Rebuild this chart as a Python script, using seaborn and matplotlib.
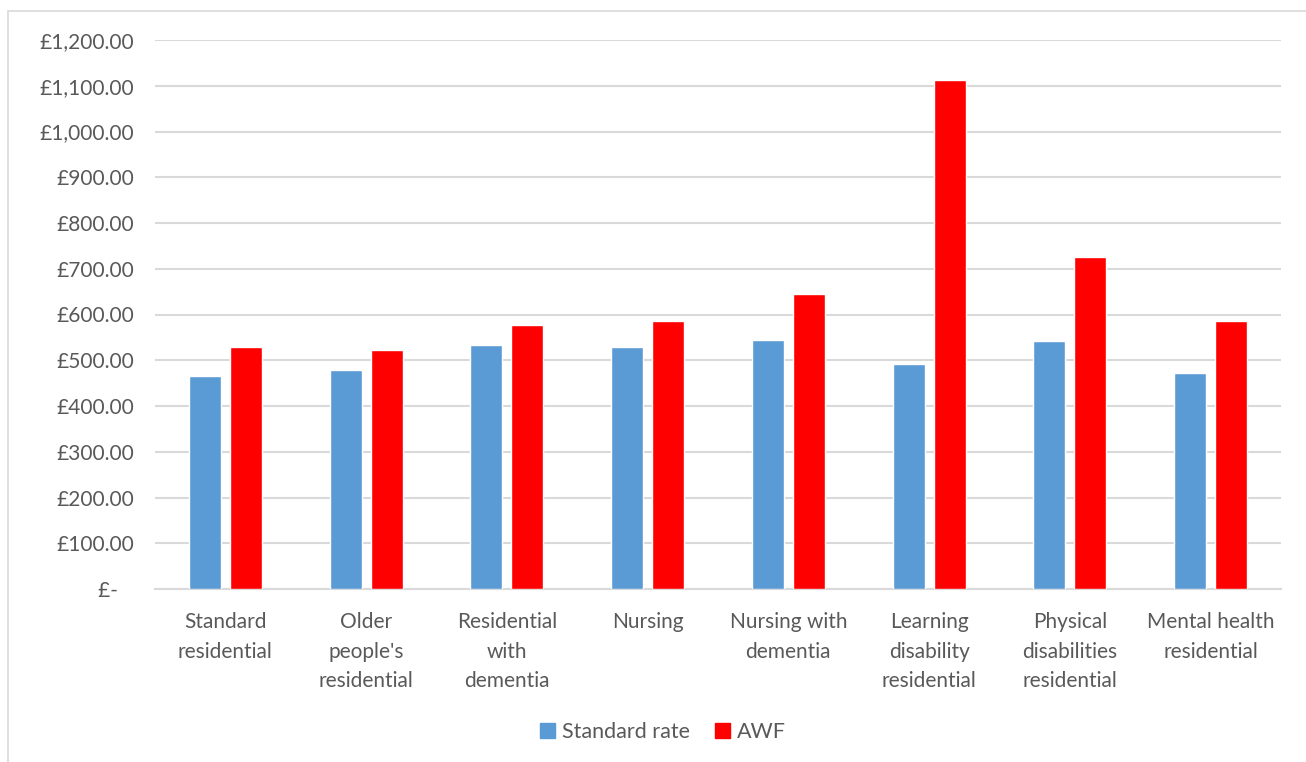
import pandas as pd
import numpy as np
import matplotlib
matplotlib.use('Agg')
import matplotlib.pyplot as plt
from matplotlib.ticker import FuncFormatter
from matplotlib.patches import Rectangle
import seaborn as sns

categories = ['Standard\nresidential', "Older\npeople's\nresidential", 'Residential\nwith\ndementia',
              'Nursing', 'Nursing with\ndementia', 'Learning\ndisability\nresidential',
              'Physical\ndisabilities\nresidential', 'Mental health\nresidential']
standard_rate = [466, 478, 534, 529, 544, 492, 542, 472]
awf = [530, 522, 577, 586, 645, 1113, 725, 586]

df = pd.DataFrame({'category': categories * 2,
                   'value': standard_rate + awf,
                   'series': ['Standard rate'] * len(categories) + ['AWF'] * len(categories)})

sns.set_theme(style='white')
plt.rcParams['font.family'] = ['Lato', 'DejaVu Sans']
txt = '#595959'
grid = '#d9d9d9'
fs = 15

fig = plt.figure(figsize=(13.06, 7.62), dpi=100)
ax = fig.add_axes([155/1306, 1-589/762, (1281-155)/1306, (589-40)/762])

sns.barplot(data=df, x='category', y='value', hue='series', order=categories,
            hue_order=['Standard rate', 'AWF'], palette=['#5B9BD5', '#FF0000'],
            width=0.583, gap=0.22, saturation=1, errorbar=None, ax=ax, zorder=3)

ax.set_ylim(0, 1200)
ax.set_yticks(np.arange(0, 1201, 100))
ax.yaxis.set_major_formatter(FuncFormatter(lambda v, p: '£-   ' if v == 0 else '£{:,.2f}'.format(v)))
ax.grid(axis='y', color=grid, linewidth=1.5, zorder=0)
ax.set_axisbelow(True)
for s in ['top', 'right', 'left']:
    ax.spines[s].set_visible(False)
ax.spines['bottom'].set_color(grid)
ax.spines['bottom'].set_linewidth(1.5)
ax.tick_params(axis='both', length=0, labelsize=fs, labelcolor=txt)
ax.tick_params(axis='y', pad=15)
ax.set_xticklabels([])
for i, c in enumerate(categories):
    ax.text(i, -(612 - 589) / 549, c, transform=ax.get_xaxis_transform(), ha='center', va='top',
            fontsize=fs, color=txt, linespacing=1.6)
ax.set_xlabel('')
ax.set_ylabel('')
ax.set_xlim(-0.5, len(categories) - 0.5)

ax.get_legend().remove()
handles = [Rectangle((0, 0), 1, 1, color='#5B9BD5'), Rectangle((0, 0), 1, 1, color='#FF0000')]
fig.legend(handles, ['Standard rate', 'AWF'], loc='center', bbox_to_anchor=(663/1306, 1-732/762),
           ncol=2, frameon=False, fontsize=15.5, labelcolor=txt, handlelength=0.7, handleheight=0.7,
           handletextpad=0.3, columnspacing=1.2)

# chart border
fig.patches.append(Rectangle((8/1306, -0.05), 1.1, 1-11/762+0.05, transform=fig.transFigure,
                             fill=False, edgecolor='#d9d9d9', linewidth=1.2))

fig.savefig('out.png', dpi=100)
